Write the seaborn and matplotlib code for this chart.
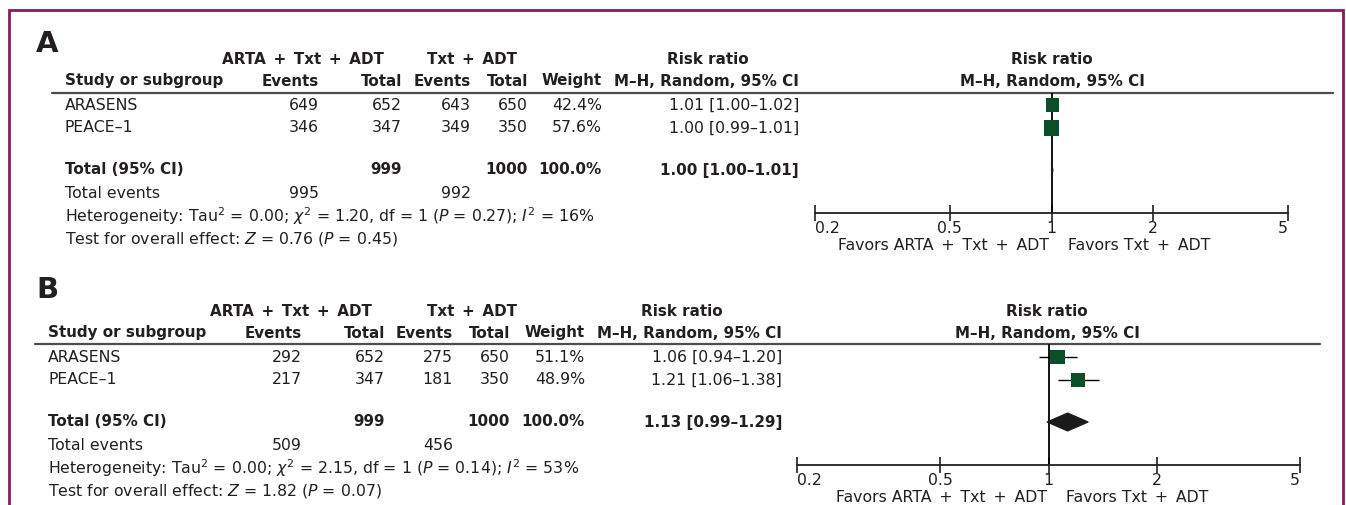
import matplotlib
matplotlib.use("Agg")
import matplotlib.pyplot as plt
import seaborn as sns
import pandas as pd
from matplotlib.ticker import NullLocator, FixedLocator

# ---- data ----
studies = ["ARASENS", "PEACE–1"]

a_ev1 = [649, 346]
a_tot1 = [652, 347]
a_ev2 = [643, 349]
a_tot2 = [650, 350]
a_weight = [42.4, 57.6]
a_rr = [1.01, 1.00]
a_lo = [1.00, 0.99]
a_hi = [1.02, 1.01]
a_total_rr = [1.00, 1.00, 1.01]
a_total_n = [999, 1000]
a_total_events = [995, 992]
a_het = ["0.00", "1.20", "1", "0.27", "16"]
a_effect = ["0.76", "0.45"]

b_ev1 = [292, 217]
b_tot1 = [652, 347]
b_ev2 = [275, 181]
b_tot2 = [650, 350]
b_weight = [51.1, 48.9]
b_rr = [1.06, 1.21]
b_lo = [0.94, 1.06]
b_hi = [1.20, 1.38]
b_total_rr = [1.13, 0.99, 1.29]
b_total_n = [999, 1000]
b_total_events = [509, 456]
b_het = ["0.00", "2.15", "1", "0.14", "53"]
b_effect = ["1.82", "0.07"]

rr_ticks = [0.2, 0.5, 1, 2, 5]
tick_labels = ["0.2", "0.5", "1", "2", "5"]

W, H = 1346, 505
ink = "#231f20"
green = "#0b4f2a"
frame = "#8b1a5b"
sp = "\u2002"  # en space, the reference spaces its "+" signs widely

sns.set_theme(style="white")
plt.rcParams["font.family"] = ["DejaVu Sans"]
plt.rcParams["mathtext.fontset"] = "dejavusans"
FS = 11.3
FSB = 10.9

fig = plt.figure(figsize=(W / 100, H / 100), dpi=100)
bg = fig.add_axes([0, 0, 1, 1])
bg.set_xlim(0, W)
bg.set_ylim(H, 0)
bg.axis("off")

# frame round the figure (bottom edge is cut off)
bg.plot([8.5, 8.5, 1343, 1343], [H, 9.5, 9.5, H], color=frame, lw=2, solid_joinstyle="miter")


def txt(x, y, s, ha="left", bold=False, size=None):
    if size is None:
        size = FSB if bold else FS
    bg.text(x, y, s, ha=ha, va="center", fontsize=size, color=ink,
            fontweight="bold" if bold else "normal")


def panel(lay, d):
    y = lay["y"]
    c = lay["cols"]
    txt(lay["letter_x"], y["letter"], lay["letter"], bold=True, size=21)
    # headers
    txt(lay["grp1"], y["h1"], f"ARTA{sp}+{sp}Txt{sp}+{sp}ADT", ha="center", bold=True)
    txt(lay["grp2"], y["h1"], f"Txt{sp}+{sp}ADT", ha="center", bold=True)
    txt(lay["rr_head"], y["h1"], "Risk ratio", ha="center", bold=True)
    txt(lay["plot_head"], y["h1"], "Risk ratio", ha="center", bold=True)
    txt(lay["left"], y["h2"], "Study or subgroup", bold=True)
    for key, lab in zip(["ev1", "tot1", "ev2", "tot2", "w", "rr"],
                        ["Events", "Total", "Events", "Total", "Weight", "M–H, Random, 95% CI"]):
        txt(c[key], y["h2"], lab, ha="right", bold=True)
    txt(lay["plot_head"], y["h2"], "M–H, Random, 95% CI", ha="center", bold=True)
    bg.plot([lay["line_x0"], lay["line_x1"]], [y["line"], y["line"]], color="#4d4d4d", lw=1.6)

    # study rows
    for i, name in enumerate(studies):
        ry = y["rows"][i]
        txt(lay["left"], ry, name)
        txt(c["ev1"], ry, str(d["ev1"][i]), ha="right")
        txt(c["tot1"], ry, str(d["tot1"][i]), ha="right")
        txt(c["ev2"], ry, str(d["ev2"][i]), ha="right")
        txt(c["tot2"], ry, str(d["tot2"][i]), ha="right")
        txt(c["w"], ry, f"{d['w'][i]:.1f}%", ha="right")
        txt(c["rr"], ry, f"{d['rr'][i]:.2f} [{d['lo'][i]:.2f}–{d['hi'][i]:.2f}]", ha="right")

    # total row
    t = d["total_rr"]
    txt(lay["left"], y["total"], "Total (95% CI)", bold=True)
    txt(c["tot1"], y["total"], str(d["total_n"][0]), ha="right", bold=True)
    txt(c["tot2"], y["total"], str(d["total_n"][1]), ha="right", bold=True)
    txt(c["w"], y["total"], f"{sum(d['w']):.1f}%", ha="right", bold=True)
    txt(c["rr"], y["total"], f"{t[0]:.2f} [{t[1]:.2f}–{t[2]:.2f}]", ha="right", bold=True)

    txt(lay["left"], y["events"], "Total events")
    txt(c["ev1"], y["events"], str(d["total_events"][0]), ha="right")
    txt(c["ev2"], y["events"], str(d["total_events"][1]), ha="right")
    h = d["het"]
    txt(lay["left"], y["het"],
        f"Heterogeneity: Tau$^2$ = {h[0]}; $\\chi^2$ = {h[1]}, df = {h[2]} ($P$ = {h[3]}); $I^2$ = {h[4]}%")
    e = d["effect"]
    txt(lay["left"], y["test"], f"Test for overall effect: $Z$ = {e[0]} ($P$ = {e[1]})")

    # forest plot
    x0, x1 = lay["axis_x"]
    ax = fig.add_axes([x0 / W, 1 - y["axis"] / H, (x1 - x0) / W, (y["axis"] - y["line"]) / H])
    ax.set_xscale("log")
    ax.set_xlim(rr_ticks[0], rr_ticks[-1])
    ax.set_ylim(y["axis"], y["line"])
    ax.patch.set_alpha(0)
    for s in ["top", "left", "right"]:
        ax.spines[s].set_visible(False)
    ax.spines["bottom"].set_color(ink)
    ax.spines["bottom"].set_linewidth(1.3)
    ax.set_yticks([])
    ax.xaxis.set_major_locator(FixedLocator(rr_ticks))
    ax.xaxis.set_minor_locator(NullLocator())
    ax.set_xticklabels(tick_labels)
    ax.tick_params(axis="x", direction="inout", length=11, width=1.2, pad=0,
                   labelsize=FS, labelcolor=ink, color=ink, bottom=True)
    labs = ax.get_xticklabels()
    labs[0].set_ha("left")
    labs[-1].set_ha("right")
    ax.axvline(1, color="black", lw=1.3, zorder=1)

    df = pd.DataFrame({"rr": d["rr"], "lo": d["lo"], "hi": d["hi"], "row": y["rows"],
                       "size": [(2.0 * w ** 0.5 * 0.72) ** 2 for w in d["w"]]})
    ax.hlines(df["row"], df["lo"], df["hi"], color="black", lw=1, zorder=2)
    sns.scatterplot(data=df, x="rr", y="row", marker="s", s=df["size"].tolist(),
                    color=green, edgecolor=green, linewidth=0, ax=ax, zorder=3, legend=False)
    ax.fill([t[1], t[0], t[2], t[0]],
            [y["total"], y["total"] - 9, y["total"], y["total"] + 9],
            color="#1a1a1a", lw=0.8, edgecolor="#1a1a1a", zorder=3)
    ax.set_xlabel("")
    ax.set_ylabel("")

    ax.annotate(f"Favors ARTA{sp}+{sp}Txt{sp}+{sp}ADT", xy=(1, 0), xycoords=("data", "axes fraction"),
                xytext=(-2, -33), textcoords="offset pixels", ha="right", va="center",
                fontsize=FS, color=ink)
    ax.annotate(f"Favors Txt{sp}+{sp}ADT", xy=(1, 0), xycoords=("data", "axes fraction"),
                xytext=(17, -33), textcoords="offset pixels", ha="left", va="center",
                fontsize=FS, color=ink)


layout_a = {
    "letter": "A", "letter_x": 36, "left": 65,
    "grp1": 303, "grp2": 472, "rr_head": 708, "plot_head": 1052,
    "line_x0": 52, "line_x1": 1333, "axis_x": (815, 1288),
    "cols": {"ev1": 319, "tot1": 402, "ev2": 471, "tot2": 528, "w": 602, "rr": 799},
    "y": {"letter": 44, "h1": 60, "h2": 81, "line": 93, "rows": [105, 128], "total": 170,
          "events": 194, "het": 216, "test": 239, "axis": 213},
}
layout_b = {
    "letter": "B", "letter_x": 36, "left": 48,
    "grp1": 291, "grp2": 472, "rr_head": 682, "plot_head": 1047,
    "line_x0": 35, "line_x1": 1320, "axis_x": (797, 1300),
    "cols": {"ev1": 302, "tot1": 385, "ev2": 453, "tot2": 510, "w": 585, "rr": 782},
    "y": {"letter": 290, "h1": 311, "h2": 333, "line": 344, "rows": [357, 380], "total": 422,
          "events": 446, "het": 468, "test": 491, "axis": 465},
}

data_a = {"ev1": a_ev1, "tot1": a_tot1, "ev2": a_ev2, "tot2": a_tot2, "w": a_weight,
          "rr": a_rr, "lo": a_lo, "hi": a_hi, "total_rr": a_total_rr, "total_n": a_total_n,
          "total_events": a_total_events, "het": a_het, "effect": a_effect}
data_b = {"ev1": b_ev1, "tot1": b_tot1, "ev2": b_ev2, "tot2": b_tot2, "w": b_weight,
          "rr": b_rr, "lo": b_lo, "hi": b_hi, "total_rr": b_total_rr, "total_n": b_total_n,
          "total_events": b_total_events, "het": b_het, "effect": b_effect}

panel(layout_a, data_a)
panel(layout_b, data_b)

fig.savefig("out.png", dpi=100)
